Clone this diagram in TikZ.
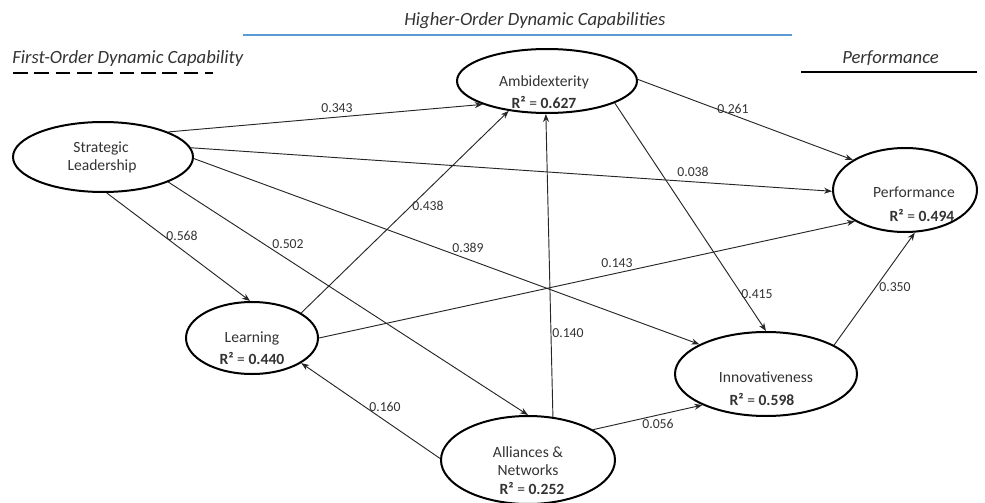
\documentclass[tikz,border=0pt]{standalone}
\usepackage{fontspec}
\setmainfont{Carlito}
\usetikzlibrary{arrows.meta,shapes.geometric}
\definecolor{capblue}{HTML}{5B9BD5}
\definecolor{inktext}{HTML}{333333}
\begin{document}
\begin{tikzpicture}[x=0.75pt,y=-0.75pt,
  construct/.style={draw=black, line width=1.5pt, ellipse, inner sep=0pt},
  nm/.style={font=\fontsize{11.7}{14}\selectfont, text=inktext, inner sep=0pt},
  coef/.style={font=\fontsize{10.3}{12}\selectfont, text=inktext, inner sep=0pt},
  link/.style={draw=black!85, line width=0.7pt, -{Stealth[length=6pt,width=4.5pt]}},
  heading/.style={font=\fontsize{14}{16}\selectfont\itshape, text=inktext, inner sep=0pt, anchor=west}
]
\useasboundingbox (0,0) rectangle (985,503);

% group headings
\node[heading] (hHigher) at (404,21) {Higher-Order Dynamic Capabilities};
\draw[capblue, line width=1.6pt] (243,35) -- (792,35);
\node[heading] (hFirst) at (12,59) {First-Order Dynamic Capability};
\draw[black, line width=2.2pt, dash pattern=on 11pt off 5pt] (13,73) -- (213,73);
\node[heading] (hPerf) at (842,58) {Performance};
\draw[black, line width=2pt] (801,72) -- (977,72);

% constructs
\node[construct, minimum width=135pt, minimum height=52.5pt] (sl) at (103,157) {};
\node[construct, minimum width=135pt, minimum height=48pt] (amb) at (547,81) {};
\node[construct, minimum width=108pt, minimum height=63pt] (perf) at (905,190) {};
\node[construct, minimum width=99pt, minimum height=54pt] (learn) at (252,338) {};
\node[construct, minimum width=136.5pt, minimum height=63pt] (innov) at (766,374) {};
\node[construct, minimum width=130.5pt, minimum height=66pt] (all) at (528,460) {};

% construct names and R-squared values
\node[nm] (slA) at (101,148) {Strategic};
\node[nm] (slB) at (102,166) {Leadership};
\node[nm] (ambA) at (544,82) {Ambidexterity};
\node[nm] (ambB) at (544,102) {\textbf{R²} = \textbf{0.627}};
\node[nm] (perfA) at (914,192) {Performance};
\node[nm] (perfB) at (922,215) {\textbf{R²} = \textbf{0.494}};
\node[nm] (learnA) at (252,338) {Learning};
\node[nm] (learnB) at (252,358) {\textbf{R²} = \textbf{0.440}};
\node[nm] (innovA) at (766,377) {Innovativeness};
\node[nm] (innovB) at (762,399) {\textbf{R²} = \textbf{0.598}};
\node[nm] (allA) at (528,452) {Alliances \&};
\node[nm] (allB) at (528,470) {Networks};
\node[nm] (allC) at (532,488) {\textbf{R²} = \textbf{0.252}};

% structural paths
\draw[link] (sl.21) -- (amb.200);
\draw[link] (sl.6) -- (perf.181);
\draw[link] (sl.276) -- (learn.93);
\draw[link] (sl.339) -- (all.90);
\draw[link] (sl.359) -- (innov.156);
\draw[link] (learn.27) -- (amb.218);
\draw[link] (learn.0) -- (perf.212);
\draw[link] (all.60) -- (amb.268);
\draw[link] (all.179) -- (learn.333);
\draw[link] (all.25) -- (innov.206);
\draw[link] (amb.1) -- (perf.150);
\draw[link] (amb.342) -- (innov.90);
\draw[link] (innov.23) -- (perf.283);

% path coefficients
\node[coef] (c1) at (337,108) {0.343};
\node[coef] (c2) at (693,172) {0.038};
\node[coef] (c3) at (182,236) {0.568};
\node[coef] (c4) at (288,244) {0.502};
\node[coef] (c5) at (468,248) {0.389};
\node[coef] (c6) at (428,206) {0.438};
\node[coef] (c7) at (617,263) {0.143};
\node[coef] (c8) at (568,333) {0.140};
\node[coef] (c9) at (385,407) {0.160};
\node[coef] (c10) at (658,424) {0.056};
\node[coef] (c11) at (733,109) {0.261};
\node[coef] (c12) at (757,294) {0.415};
\node[coef] (c13) at (895,287) {0.350};
\end{tikzpicture}
\end{document}
